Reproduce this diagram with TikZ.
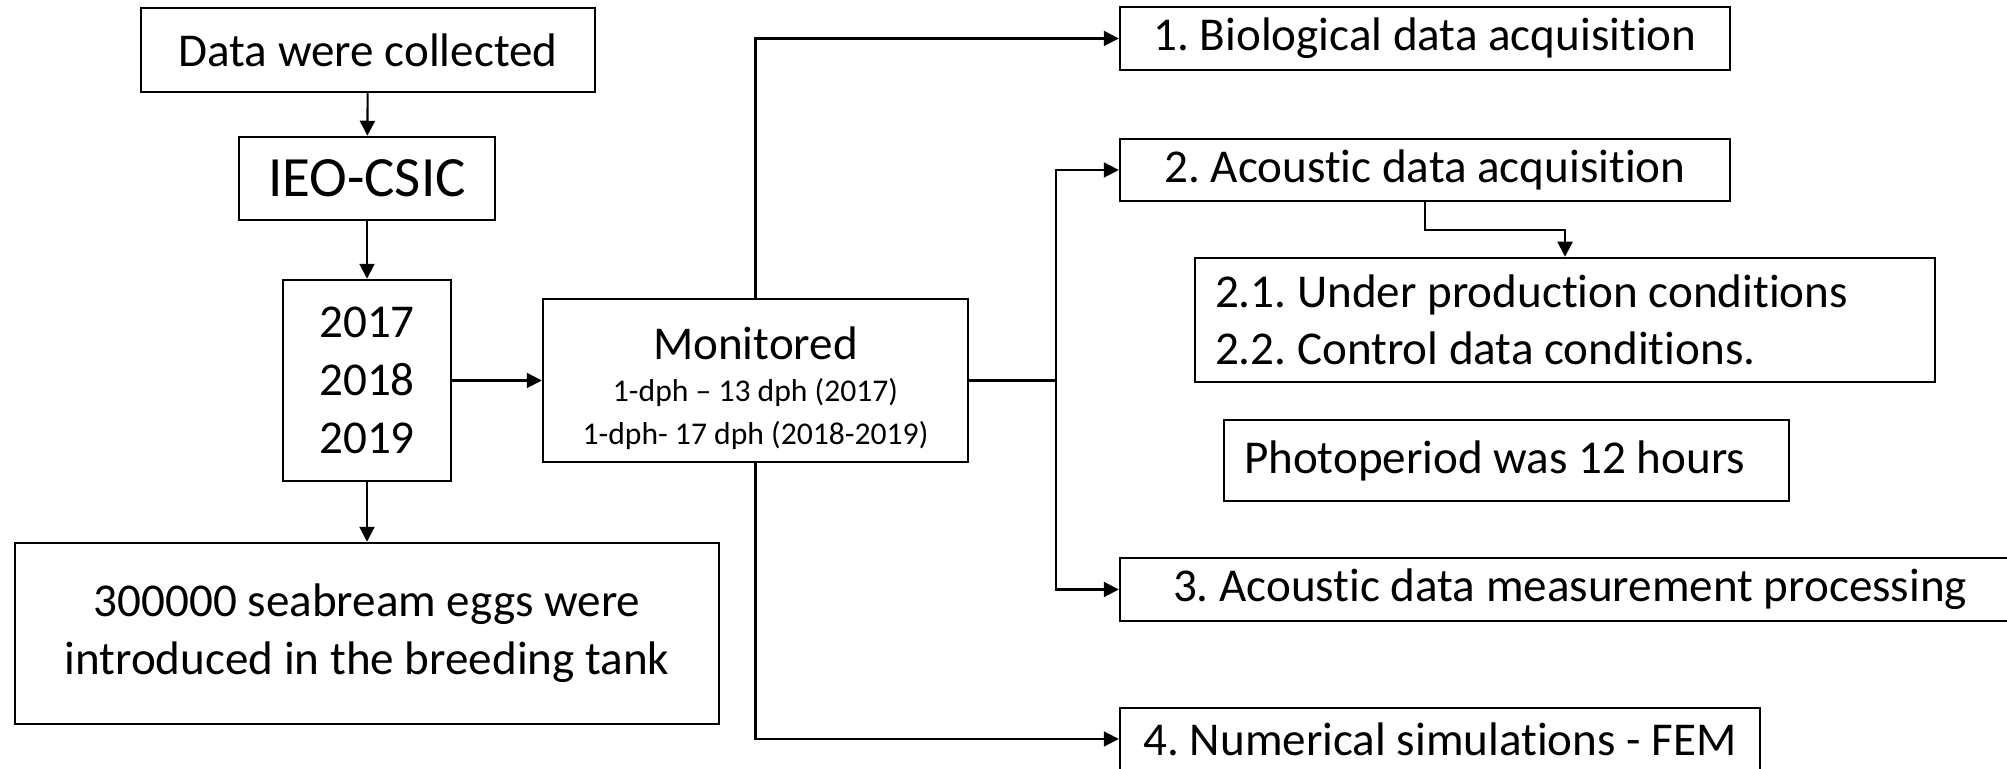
\documentclass[tikz,border=0pt]{standalone}
\usepackage{fontspec}
\setmainfont{Carlito}[Ligatures={TeX,NoCommon}]
\usetikzlibrary{arrows.meta}
\frenchspacing
\newcommand{\smallfont}{\fontsize{9}{11.5}\selectfont}
\newcommand{\bigfont}{\fontsize{16.2}{19}\selectfont}
\tikzstyle{box}=[draw, line width=0.7pt, inner sep=0pt, font=\fontsize{13.4}{16.4}\selectfont]
\tikzstyle{link}=[line width=0.6pt]
\tikzstyle{arrow}=[link, -{Triangle[length=0.15cm,width=0.15cm]}]

\begin{document}
\begin{tikzpicture}
  \clip (0,0) rectangle (20.07,7.69);
  \useasboundingbox (0,0) rectangle (20.07,7.69);
  %% left column
  \draw (3.68,7.19) node[box,minimum width=4.54cm,minimum height=0.84cm] (data) {Data were collected};
  \draw (3.67,5.905) node[box,minimum width=2.56cm,minimum height=0.83cm] (ieo) {\bigfont IEO-CSIC};
  \draw (3.67,3.885) node[box,minimum width=1.68cm,minimum height=2.01cm,align=center] (years) {2017\\2018\\2019};
  \draw (3.67,1.355) node[box,minimum width=7.04cm,minimum height=1.81cm,align=center] (eggs) {300000 seabream eggs were\\introduced in the breeding tank};

  \draw (7.555,3.885) node[box,minimum width=4.25cm,minimum height=1.63cm,align=center] (mon)
    {\rule{0pt}{13.8pt}Monitored\\[-4.5pt]\smallfont 1-dph -- 13 dph (2017)\\[-4pt]\smallfont 1-dph- 17 dph (2018-2019)};

  %% right column
  \draw (14.25,7.305) node[box,minimum width=6.10cm,minimum height=0.63cm] (bio) {1. Biological data acquisition};
  \draw (14.25,5.99) node[box,minimum width=6.10cm,minimum height=0.62cm] (acq) {2. Acoustic data acquisition};
  \draw (15.65,4.49) node[box,minimum height=1.24cm,inner xsep=0.2cm,text width=7.0cm,align=flush left] (cond)
    {2.1. Under production conditions\\2.2. Control data conditions.};
  \draw (15.065,3.085) node[box,minimum height=0.81cm,inner xsep=0.2cm,text width=5.25cm,align=flush left] (photo) {Photoperiod was 12 hours};
  \draw (15.70,1.795) node[box,minimum width=9.0cm,minimum height=0.63cm] (proc) {3. Acoustic data measurement processing};
  \draw (14.40,0.30) node[box,minimum width=6.40cm,minimum height=0.62cm] (fem) {4. Numerical simulations - FEM};

  \coordinate (split) at (10.56,3.885);

  %% connectors
  \draw[arrow] (data) -- (ieo);
  \draw[arrow] (ieo) -- (years);
  \draw[arrow] (years) -- (eggs);
  \draw[arrow] (years) -- (mon);

  \draw[arrow] (mon.north) |- (bio.west);
  \draw[arrow] (mon.south) |- (fem.west);
  \draw[link] (mon.east) -- (split);
  \draw[arrow] (split) |- (acq.west);
  \draw[arrow] (split) |- (proc.west);
  \draw[arrow] (acq.south) -- ++(0,-0.28) -| (cond.north);
\end{tikzpicture}
\end{document}
